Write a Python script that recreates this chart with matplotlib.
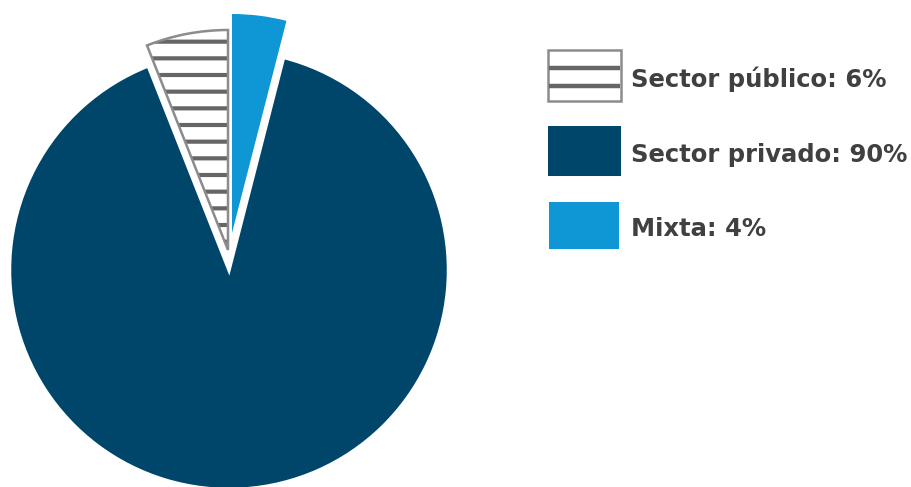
import matplotlib
matplotlib.use("Agg")
import matplotlib.pyplot as plt
from matplotlib.patches import Wedge, Rectangle

# ---- data ----
labels = ["Sector público", "Sector privado", "Mixta"]
values = [6, 90, 4]
colors = ["#ffffff", "#00466a", "#0f97d5"]

plt.rcParams["hatch.linewidth"] = 3.0
plt.rcParams["hatch.color"] = "#666666"

fig = plt.figure(figsize=(9.12, 4.87), dpi=100)
ax = fig.add_axes([0, 0, 1, 1])

wedges, _ = ax.pie(values, colors=colors, startangle=90, counterclock=True,
                   radius=219.5, center=(229, 217), frame=True,
                   wedgeprops=dict(linewidth=0))
ax.set_xlim(0, 912)
ax.set_ylim(0, 487)
ax.axis("off")

pub, priv, mix = wedges
# private slice: white edge to create gaps
priv.set_edgecolor("white")
priv.set_linewidth(2.5)
# public slice: hatched, shifted up
pub.set_center((228, 237))
pub.set_radius(220)
pub.set_facecolor("white")
pub.set_hatch("-")
pub.set_edgecolor("#666666")
pub.set_linewidth(0)
outline = Wedge((228, 237), 220, pub.theta1, pub.theta2, facecolor="none",
                edgecolor="#8c8c8c", linewidth=1.8, zorder=pub.get_zorder() + 0.1)
ax.add_patch(outline)
# mixta slice: shifted up
mix.set_center((232, 254))
mix.set_radius(219)

# ---- legend ----
text_color = "#404040"
boxes = [(548, 386, 73, 51), (548, 311, 73, 50), (549, 238, 70, 47)]
baselines = [400, 325, 251]
for i, (lab, val) in enumerate(zip(labels, values)):
    x, y, w, h = boxes[i]
    if i == 0:
        ax.add_patch(Rectangle((x, y), w, h, facecolor="white",
                               edgecolor="#8c8c8c", linewidth=1.8))
        for yy in (419, 401):
            ax.plot([x + 1, x + w - 1], [yy, yy], color="#666666", lw=3.2,
                    solid_capstyle="butt")
    else:
        ax.add_patch(Rectangle((x, y), w, h, facecolor=colors[i],
                               edgecolor="none"))
    ax.text(631, baselines[i], f"{lab}: {val}%", fontsize=17.5, fontweight="bold",
            color=text_color, va="baseline", ha="left", family="DejaVu Sans")

fig.savefig("out.png", dpi=100)
